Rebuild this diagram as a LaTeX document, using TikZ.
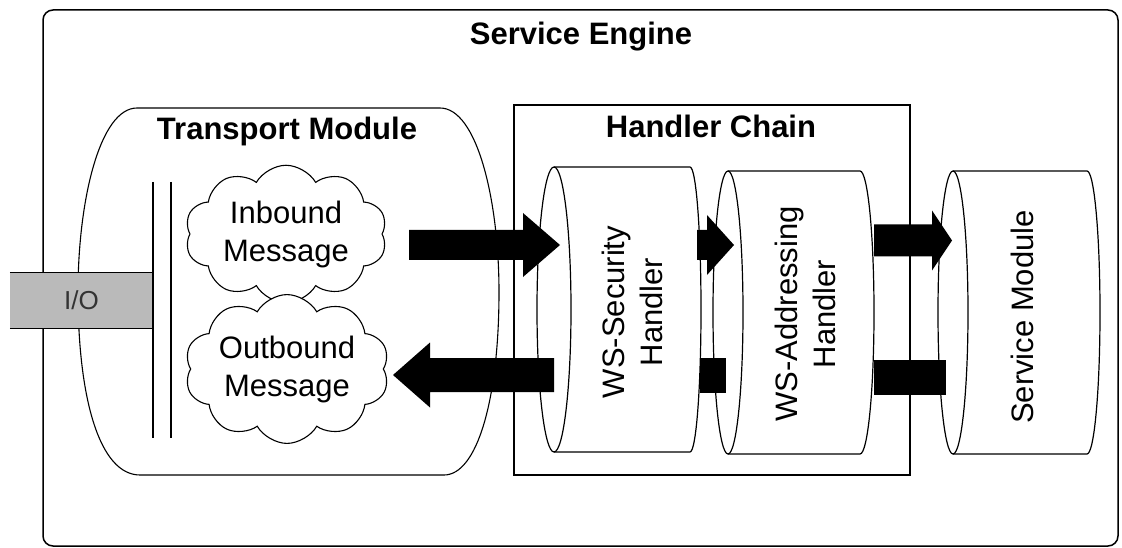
\documentclass[tikz,border=0pt]{standalone}
\usepackage{fontspec}
\setmainfont{Liberation Sans}
\usetikzlibrary{shapes.symbols,calc}

\tikzset{
  outline/.style={draw=black, line width=1.3pt},
  heading/.style={font=\fontsize{31}{37}\selectfont\bfseries, inner sep=0pt, anchor=base},
  caption/.style={font=\fontsize{31}{38}\selectfont, align=center, inner sep=0pt},
  msgcloud/.style={cloud, draw=black, line width=1.1pt, fill=white, cloud puffs=10,
    cloud puff arc=120, aspect=1.6, minimum width=202pt, minimum height=128pt,
    inner sep=0pt, font=\fontsize{31}{38}\selectfont, align=center},
  cylline/.style={draw=black, fill=white, line width=1.2pt},
  flowfill/.style={fill=black},
}

% horizontal drum: left cap centre x, right cap centre x, top y, bottom y, left rx, right rx
\newcommand{\hdrum}[6]{%
  \pgfmathsetmacro\drumry{(#4-#3)/2}%
  \filldraw[cylline] (#1,#3) -- (#2,#3)
    arc[start angle=-90,end angle=90,x radius=#6,y radius=\drumry]
    -- (#1,#4)
    arc[start angle=90,end angle=270,x radius=#5,y radius=\drumry] -- cycle;
  \draw[cylline, fill=none] (#1,#4)
    arc[start angle=90,end angle=-90,x radius=#5,y radius=\drumry];
}

% block arrow: tail, tip, head base, half shaft width, half head width
\newcommand{\blockflow}[5]{%
  \fill[flowfill] ($(#1)+(0,-#4)$) -- ($(#3)+(0,-#4)$) -- ($(#3)+(0,-#5)$) -- (#2)
    -- ($(#3)+(0,#5)$) -- ($(#3)+(0,#4)$) -- ($(#1)+(0,#4)$) -- cycle;
}

\begin{document}
\begin{tikzpicture}[x=1pt,y=-1pt]
\useasboundingbox (0,0) rectangle (1122,548);

% outer engine frame
\node[outline, line width=1.5pt, rounded corners=10pt, minimum width=1075pt,
  minimum height=536pt, inner sep=0pt] (engine) at (580.5,278) {};
\node[heading] (enginetitle) at (581,45) {Service Engine};

% transport module barrel
\draw[outline, fill=white, line width=1.1pt]
  (137,108) -- (440,108)
  .. controls (477,108) and (499,200) .. (499,292)
  .. controls (499,400) and (477,475) .. (444,475)
  -- (140,475)
  .. controls (100,475) and (78,400) .. (78,292)
  .. controls (78,200) and (100,108) .. (137,108) -- cycle;
\node[heading] (transporttitle) at (287,140) {Transport Module};

% handler chain box
\node[outline, line width=1.2pt, minimum width=396pt, minimum height=370pt,
  inner sep=0pt] (chain) at (712,290) {};
\node[heading] (chaintitle) at (711,138) {Handler Chain};

% I/O port
\node[fill=black!27, minimum width=143pt, minimum height=55pt, inner sep=0pt,
  font=\fontsize{26}{30}\selectfont, text=black!80] (io) at (81.5,300.5) {I/O};
\draw[line width=1.2pt] (io.north west) -- (io.north east);
\draw[line width=1.2pt] (io.south west) -- (io.south east);

% double bar of the transport layer
\draw[line width=1.2pt] (153,182) -- (153,438);
\draw[line width=1.2pt] (171,182) -- (171,438);

% message clouds
\node[msgcloud] (inbound) at (286,234) {Inbound\\Message};
\node[msgcloud] (outbound) at (287,369) {Outbound\\Message};

% handlers and service
\hdrum{554}{690}{167}{452}{17}{11}
\node[caption, rotate=90] (security) at (632,312) {WS-Security\\Handler};
\hdrum{728}{860}{171}{454}{15}{14}
\node[caption, rotate=90] (addressing) at (805,314) {WS-Addressing\\Handler};
\hdrum{953}{1087}{171}{454}{15}{13}
\node[caption, rotate=90] (service) at (1022,317) {Service Module};

% message flow
\coordinate (inTail) at (409,245);
\coordinate (inBase) at (523,245);
\coordinate (inTip) at (560,245);
\blockflow{inTail}{inTip}{inBase}{15}{32}

\coordinate (secTail) at (697,245);
\coordinate (secBase) at (707,245);
\coordinate (secTip) at (734,245);
\blockflow{secTail}{secTip}{secBase}{15}{30}

\coordinate (addrTail) at (874,240.5);
\coordinate (addrBase) at (932,240.5);
\coordinate (addrTip) at (952,240.5);
\blockflow{addrTail}{addrTip}{addrBase}{16}{30}

\coordinate (outTail) at (554,375);
\coordinate (outBase) at (430,375);
\coordinate (outTip) at (393,375);
\blockflow{outTail}{outTip}{outBase}{17}{32.5}

\coordinate (retAa) at (700,358);
\coordinate (retAb) at (726,393);
\fill[flowfill] (retAa) rectangle (retAb);
\coordinate (retBa) at (874,360);
\coordinate (retBb) at (946,395);
\fill[flowfill] (retBa) rectangle (retBb);
\end{tikzpicture}
\end{document}
